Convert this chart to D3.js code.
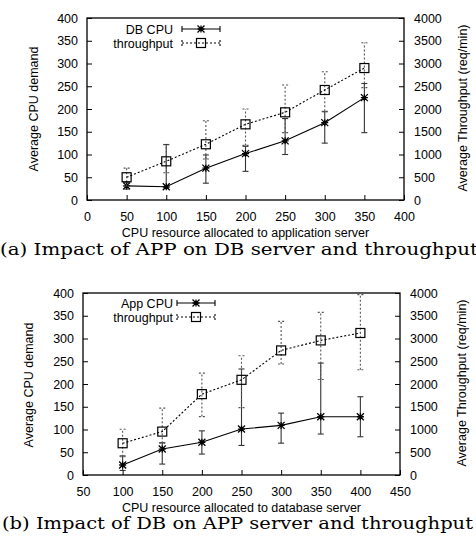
<!DOCTYPE html>
<html><head><meta charset="utf-8">
<script src="https://cdn.jsdelivr.net/npm/d3@7"></script>
<style>body{margin:0;background:#fff}svg{display:block}</style>
</head><body>
<svg id="c" width="476" height="541"></svg>
<script>
// ---- Data ----
// Panel (a): impact of APP on DB server
const xA = [50, 100, 150, 200, 250, 300, 350];
const dbCpu = [31, 29, 70, 102, 130, 170, 225];
const dbCpuLow = [24, 27, 37, 63, 100, 125, 148];
const dbCpuHigh = [38, 122, 99, 118, 179, 194, 256];
const thrA = [500, 850, 1225, 1663, 1927, 2418, 2900];
const thrALow = [300, 600, 900, 1200, 1480, 1950, 2470];
const thrAHigh = [700, 1215, 1743, 2000, 2527, 2820, 3457];
// Panel (b): impact of DB on APP server
const xB = [100, 150, 200, 250, 300, 350, 400];
const appCpu = [22, 57, 72, 101, 109, 128, 128];
const appCpuLow = [10, 24, 46, 65, 70, 90, 84];
const appCpuHigh = [42, 71, 97, 233, 136, 246, 172];
const thrB = [698, 954, 1777, 2092, 2738, 2958, 3121];
const thrBLow = [400, 700, 1284, 1480, 2438, 2100, 2313];
const thrBHigh = [1006, 1469, 2240, 2621, 3377, 3575, 3965];

const leftTicks = [0, 50, 100, 150, 200, 250, 300, 350, 400];
const rightTicks = [0, 500, 1000, 1500, 2000, 2500, 3000, 3500, 4000];
const xTicksA = [0, 50, 100, 150, 200, 250, 300, 350, 400];
const xTicksB = [50, 100, 150, 200, 250, 300, 350, 400, 450];

const svg = d3.select('#c');
const SANS = '"Liberation Sans", Arial, sans-serif';
const SERIF = '"DejaVu Serif", serif';

function panel(o) {
  const g = svg.append('g');
  const x = d3.scaleLinear().domain(o.xDomain).range([o.left, o.right]);
  const yL = d3.scaleLinear().domain([0, 400]).range([o.bottom, o.top]);
  const yR = d3.scaleLinear().domain([0, 4000]).range([o.bottom, o.top]);

  // axes with inward ticks
  const ax = d3.axisBottom(x).tickValues(o.xTicks).tickFormat(d3.format('d')).tickSizeInner(-5).tickSizeOuter(0).tickPadding(9);
  const ay = d3.axisLeft(yL).tickValues(leftTicks).tickFormat(d3.format('d')).tickSizeInner(-5).tickSizeOuter(0).tickPadding(9);
  const ar = d3.axisRight(yR).tickValues(rightTicks).tickFormat(d3.format('d')).tickSizeInner(-5).tickSizeOuter(0).tickPadding(10);
  const gx = g.append('g').attr('transform', `translate(0,${o.bottom})`).call(ax);
  const gy = g.append('g').attr('transform', `translate(${o.left},0)`).call(ay);
  const gr = g.append('g').attr('transform', `translate(${o.right},0)`).call(ar);
  [gx, gy, gr].forEach(a => {
    a.select('.domain').remove();
    a.selectAll('text').attr('font-family', SANS).attr('font-size', 12.5).attr('fill', '#000');
    a.selectAll('line').attr('stroke', '#000');
  });
  gx.selectAll('text').attr('dy', '0.95em');
  g.append('rect').attr('x', o.left).attr('y', o.top).attr('width', o.right - o.left)
    .attr('height', o.bottom - o.top).attr('fill', 'none').attr('stroke', '#000').attr('stroke-width', 1.3);

  // titles
  g.append('text').attr('x', (o.left + o.right) / 2).attr('y', o.bottom + o.xtOff)
    .attr('text-anchor', 'middle').attr('font-family', SANS).attr('font-size', 12.5).text(o.xTitle);
  g.append('text').attr('transform', `translate(${o.lt[0]},${o.lt[1]}) rotate(-90)`)
    .attr('text-anchor', 'middle').attr('font-family', SANS).attr('font-size', 12.5).text('Average CPU demand');
  g.append('text').attr('transform', `translate(${o.rt[0]},${o.rt[1]}) rotate(-90)`)
    .attr('text-anchor', 'middle').attr('font-family', SANS).attr('font-size', 12.5).text('Average Throughput (req/min)');
  g.append('text').attr('x', o.cap[0]).attr('y', o.cap[1]).attr('font-family', SERIF).attr('font-size', 16)
    .attr('textLength', o.capLen).attr('lengthAdjust', 'spacingAndGlyphs').text(o.caption);

  const cw = 3;
  function series(xs, ys, lo, hi, ys2, dash, marker, bar) {
    const pts = xs.map((v, i) => ({ x: x(v), y: ys2(ys[i]), lo: ys2(lo[i]), hi: ys2(hi[i]) }));
    // error bars
    const eb = g.append('g').attr('stroke', bar).attr('stroke-width', 1.1).attr('fill', 'none')
      .attr('stroke-dasharray', dash);
    pts.forEach(p => {
      eb.append('line').attr('x1', p.x).attr('x2', p.x).attr('y1', p.lo).attr('y2', p.hi);
      eb.append('line').attr('x1', p.x - cw).attr('x2', p.x + cw).attr('y1', p.lo).attr('y2', p.lo);
      eb.append('line').attr('x1', p.x - cw).attr('x2', p.x + cw).attr('y1', p.hi).attr('y2', p.hi);
    });
    g.append('path').attr('d', d3.line().x(p => p.x).y(p => p.y)(pts)).attr('fill', 'none')
      .attr('stroke', '#000').attr('stroke-width', 1.1).attr('stroke-dasharray', dash);
    pts.forEach(p => marker(g, p.x, p.y));
  }
  function star(gg, cx, cy) {
    const s = 3.5;
    gg.append('path').attr('d', `M${cx - s},${cy}H${cx + s}M${cx},${cy - s}V${cy + s}M${cx - s},${cy - s}L${cx + s},${cy + s}M${cx - s},${cy + s}L${cx + s},${cy - s}`)
      .attr('stroke', '#000').attr('stroke-width', 1.3).attr('fill', 'none');
  }
  function square(gg, cx, cy) {
    const s = 4.5;
    gg.append('rect').attr('x', cx - s).attr('y', cy - s).attr('width', 2 * s).attr('height', 2 * s)
      .attr('fill', 'none').attr('stroke', '#000').attr('stroke-width', 1.2);
  }
  series(o.xs, o.cpu, o.cpuLo, o.cpuHi, yL, null, star, '#333');
  series(o.xs, o.thr, o.thrLo, o.thrHi, yR, '2,2', square, '#555');

  // legend
  const L = o.legend;
  const lg = g.append('g');
  [[o.cpuName, null, star, 0], ['throughput', '2,2', square, 14]].forEach(([name, dash, mk, dy]) => {
    const yy = L.y + dy;
    lg.append('text').attr('x', L.tx).attr('y', yy + 4.5).attr('text-anchor', 'end')
      .attr('font-family', SANS).attr('font-size', 12.5).text(name);
    const d = `M${L.x1},${yy}H${L.x2}M${L.x1},${yy - 3}V${yy + 3}M${L.x2},${yy - 3}V${yy + 3}`;
    lg.append('path').attr('d', d).attr('stroke', '#000').attr('stroke-width', 1.1).attr('fill', 'none')
      .attr('stroke-dasharray', dash);
    mk(lg, (L.x1 + L.x2) / 2, yy);
  });
}

panel({
  xDomain: [0, 400], xTicks: xTicksA, left: 87, right: 404, top: 18, bottom: 200,
  xs: xA, cpu: dbCpu, cpuLo: dbCpuLow, cpuHi: dbCpuHigh, thr: thrA, thrLo: thrALow, thrHi: thrAHigh,
  cpuName: 'DB CPU', xTitle: 'CPU resource allocated to application server', xtOff: 37,
  lt: [38, 109], rt: [467, 108], cap: [0, 255], capLen: 478,
  caption: '(a) Impact of APP on DB server and throughput',
  legend: { tx: 173, x1: 182, x2: 220, y: 29 }
});
panel({
  xDomain: [50, 450], xTicks: xTicksB, left: 83, right: 400, top: 293, bottom: 475,
  xs: xB, cpu: appCpu, cpuLo: appCpuLow, cpuHi: appCpuHigh, thr: thrB, thrLo: thrBLow, thrHi: thrBHigh,
  cpuName: 'App CPU', xTitle: 'CPU resource allocated to database server', xtOff: 36.5,
  lt: [33, 385], rt: [466, 383], cap: [2, 529], capLen: 471,
  caption: '(b) Impact of DB on APP server and throughput',
  legend: { tx: 173, x1: 177, x2: 215, y: 303 }
});
</script>
</body></html>
